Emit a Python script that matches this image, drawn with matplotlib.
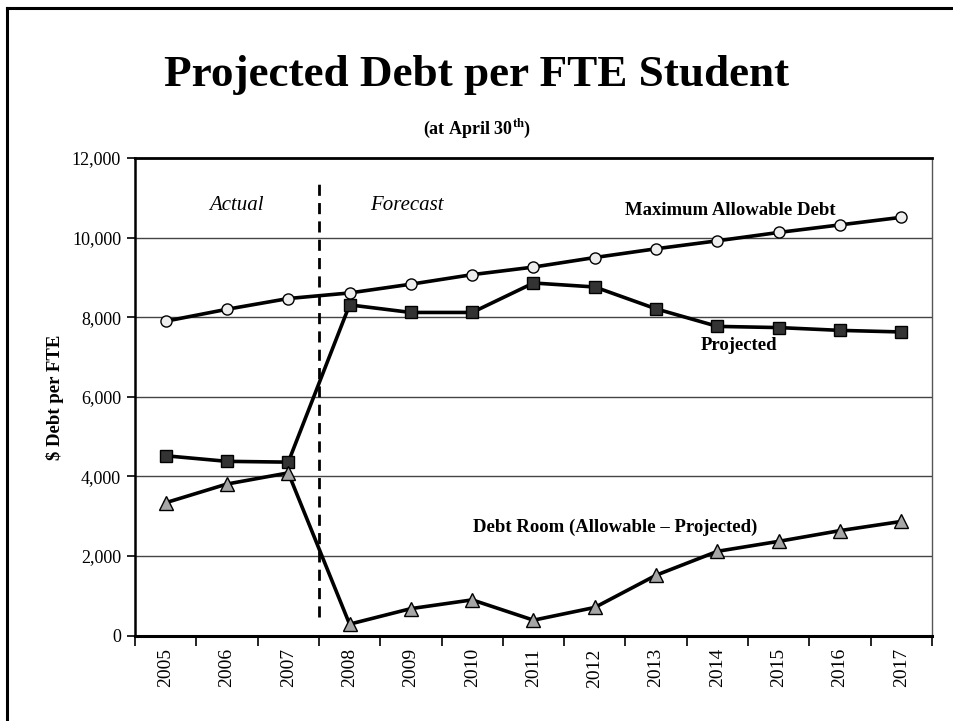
import numpy as np
import matplotlib
matplotlib.use('Agg')
import matplotlib.pyplot as plt
from matplotlib.lines import Line2D

plt.rcParams['font.family'] = ['Liberation Serif', 'DejaVu Serif']
plt.rcParams['mathtext.fontset'] = 'custom'
plt.rcParams['mathtext.rm'] = 'Liberation Serif:bold'

years = ['2005', '2006', '2007', '2008', '2009', '2010', '2011',
         '2012', '2013', '2014', '2015', '2016', '2017']
max_allowable = [7900, 8200, 8470, 8610, 8830, 9070, 9260,
                 9500, 9720, 9920, 10130, 10320, 10510]
projected = [4520, 4380, 4360, 8310, 8120, 8120, 8860,
             8760, 8210, 7770, 7740, 7670, 7630]
debt_room = [3340, 3810, 4090, 290, 680, 900, 390,
             710, 1520, 2120, 2370, 2640, 2870]
yticks = [0, 2000, 4000, 6000, 8000, 10000, 12000]

fig = plt.figure(figsize=(9.54, 7.21), dpi=100)
ax = fig.add_axes([135 / 954, 1 - 635.7 / 721, 797 / 954, (635.7 - 158) / 721])

x = np.arange(len(years))
lw = 2.6
ax.plot(x, max_allowable, '-', color='black', lw=lw, marker='o', ms=8,
        mfc='#eeeeee', mec='black', mew=1, zorder=4)
ax.plot(x, projected, '-', color='black', lw=lw, marker='s', ms=8,
        mfc='#333333', mec='black', mew=1, zorder=4)
ax.plot(x, debt_room, '-', color='black', lw=lw, marker='^', ms=9.5,
        mfc='#a6a6a6', mec='black', mew=1, zorder=4)

# actual / forecast divider
ax.plot([2.5, 2.5], [470, 11500], color='black', lw=2, ls=(0, (4, 2.6)), zorder=3)

ax.set_xlim(-0.5, len(years) - 0.5)
ax.set_ylim(0, 12000)
ax.set_yticks(yticks)
ax.set_yticklabels([f'{v:,}' for v in yticks], fontsize=13)
for v in yticks[1:-1]:
    ax.axhline(v, color='#444444', lw=1, zorder=1)

ax.set_xticks(x)
ax.set_xticklabels(years, rotation=90, fontsize=14)
ax.tick_params(axis='x', length=0, pad=9)
ax.set_xticks(np.arange(-0.5, len(years)), minor=True)
ax.tick_params(axis='x', which='minor', length=7, width=1.2, direction='out')
ax.tick_params(axis='y', length=6, width=1.2, direction='out', pad=4)

ax.spines['left'].set_linewidth(1.8)
ax.spines['bottom'].set_linewidth(2.2)
ax.spines['top'].set_linewidth(2)
ax.spines['right'].set_linewidth(1)
ax.spines['right'].set_color('#555555')

ax.set_ylabel(r'\$ Debt per FTE', fontsize=13.5, fontweight='bold', labelpad=6)

ax.text(1.16, 10800, 'Actual', fontsize=15, style='italic', ha='center', va='center')
ax.text(3.94, 10800, 'Forecast', fontsize=15, style='italic', ha='center', va='center')
ax.text(9.21, 10680, 'Maximum Allowable Debt', fontsize=13.5, fontweight='bold',
        ha='center', va='center')
ax.text(9.35, 7290, 'Projected', fontsize=13.5, fontweight='bold', ha='center', va='center')
ax.text(7.33, 2710, 'Debt Room (Allowable \u2013 Projected)', fontsize=13.5,
        fontweight='bold', ha='center', va='center')

fig.text(0.5, 1 - 75 / 721, 'Projected Debt per FTE Student', fontsize=32.5,
         fontweight='bold', ha='center', va='center')
fig.text(0.5, 1 - 128 / 721, r'(at April 30$^{\rm th}$)', fontsize=13,
         fontweight='bold', ha='center', va='center')

# outer frame (left and top edges)
fig.add_artist(Line2D([7.5 / 954, 7.5 / 954], [0, 1 - 8 / 721], color='black', lw=2.2))
fig.add_artist(Line2D([7.5 / 954, 1], [1 - 8 / 721, 1 - 8 / 721], color='black', lw=2.2))

fig.savefig('out.png', dpi=100)
